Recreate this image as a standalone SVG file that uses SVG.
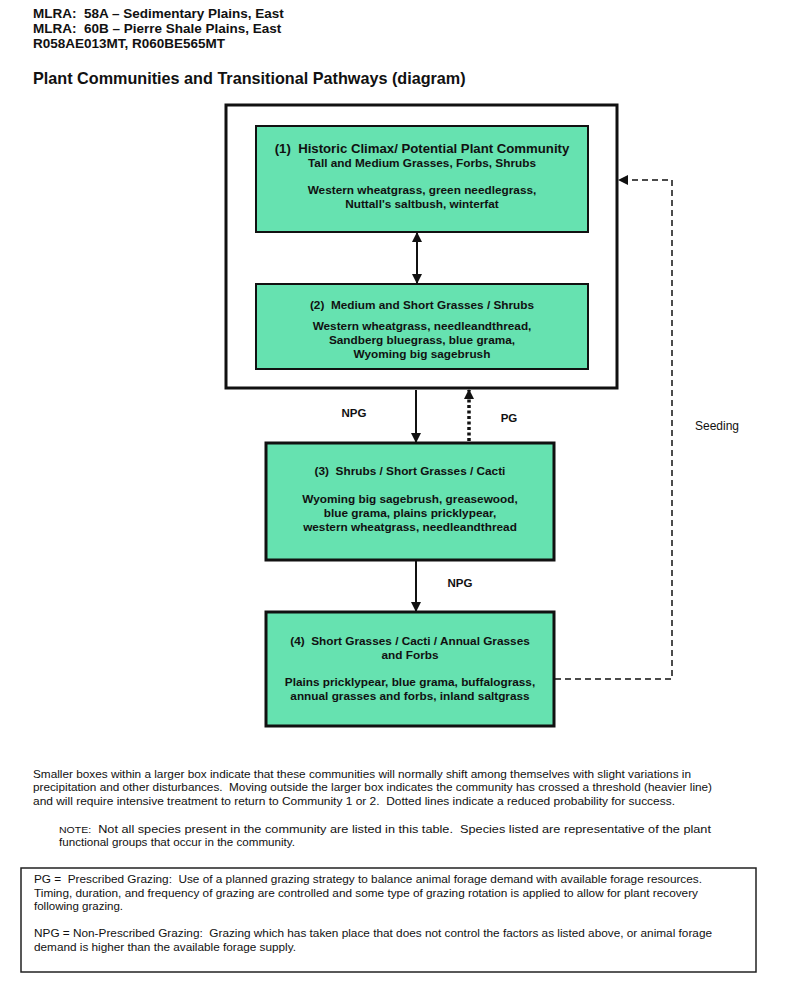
<svg xmlns="http://www.w3.org/2000/svg" width="800" height="1003" viewBox="0 0 800 1003" xml:space="preserve">
<defs>
<style>
text{font-family:"Liberation Sans",Arial,sans-serif;fill:#111;white-space:pre}
.hd{font-size:13.5px;font-weight:bold}
.ttl{font-size:16.2px;font-weight:bold}
.bt{font-size:11.8px;font-weight:bold;text-anchor:middle}
.bt1{font-size:13.2px;font-weight:bold;text-anchor:middle}
.lab{font-size:11.5px;font-weight:bold;text-anchor:middle}
.par{font-size:11.5px}
.node{fill:#66e2b0;stroke:#111}
.conn{stroke:#111;fill:none}
</style>
<marker id="ah2" viewBox="0 0 10 10" refX="9" refY="5" markerWidth="10" markerHeight="10" orient="auto-start-reverse" markerUnits="userSpaceOnUse"><path d="M0,0 L10,5 L0,10 z" fill="#111"/></marker>
</defs>
<rect width="800" height="1003" fill="#fff"/>
<g id="header">
<text class="hd" x="33" y="18">MLRA:  58A – Sedimentary Plains, East</text>
<text class="hd" x="33" y="33">MLRA:  60B – Pierre Shale Plains, East</text>
<text class="hd" x="33" y="48">R058AE013MT, R060BE565MT</text>
<text class="ttl" x="33" y="84">Plant Communities and Transitional Pathways (diagram)</text>
</g>
<g id="outer-box">
<rect x="226" y="105" width="391" height="283" fill="none" stroke="#111" stroke-width="3"/>
</g>
<g id="node1">
<rect class="node" x="256" y="126" width="332" height="106" stroke-width="2"/>
<text class="bt1" x="422" y="153">(1)  Historic Climax/ Potential Plant Community</text>
<text class="bt" x="422" y="167">Tall and Medium Grasses, Forbs, Shrubs</text>
<text class="bt" x="422" y="194">Western wheatgrass, green needlegrass,</text>
<text class="bt" x="422" y="208">Nuttall's saltbush, winterfat</text>
</g>
<g id="node2">
<rect class="node" x="256" y="284" width="332" height="85" stroke-width="2"/>
<text class="bt" x="422" y="309">(2)  Medium and Short Grasses / Shrubs</text>
<text class="bt" x="422" y="330">Western wheatgrass, needleandthread,</text>
<text class="bt" x="422" y="344">Sandberg bluegrass, blue grama,</text>
<text class="bt" x="422" y="358">Wyoming big sagebrush</text>
</g>
<g id="node3">
<rect class="node" x="266" y="443" width="288" height="117" stroke-width="3"/>
<text class="bt" x="410" y="475">(3)  Shrubs / Short Grasses / Cacti</text>
<text class="bt" x="410" y="503">Wyoming big sagebrush, greasewood,</text>
<text class="bt" x="410" y="517">blue grama, plains pricklypear,</text>
<text class="bt" x="410" y="531">western wheatgrass, needleandthread</text>
</g>
<g id="node4">
<rect class="node" x="266" y="612" width="288" height="114" stroke-width="3"/>
<text class="bt" x="410" y="645">(4)  Short Grasses / Cacti / Annual Grasses</text>
<text class="bt" x="410" y="659">and Forbs</text>
<text class="bt" x="410" y="686">Plains pricklypear, blue grama, buffalograss,</text>
<text class="bt" x="410" y="700">annual grasses and forbs, inland saltgrass</text>
</g>
<g id="connectors">
<line class="conn" x1="417" y1="233" x2="417" y2="283" stroke-width="2" marker-start="url(#ah2)" marker-end="url(#ah2)"/>
<line class="conn" x1="416" y1="390" x2="416" y2="442" stroke-width="2" marker-end="url(#ah2)"/>
<line class="conn" x1="469" y1="441" x2="469" y2="390" stroke-width="3.5" stroke-dasharray="3,2.5" marker-end="url(#ah2)"/>
<line class="conn" x1="416" y1="561" x2="416" y2="611" stroke-width="2" marker-end="url(#ah2)"/>
<polyline class="conn" points="555,679 672,679 672,180 619,180" stroke-width="1.5" stroke-dasharray="6,4" marker-end="url(#ah2)"/>
<text class="lab" x="354" y="417">NPG</text>
<text class="lab" x="509" y="422">PG</text>
<text class="lab" x="460" y="587">NPG</text>
<text x="717" y="430" style="font-size:12px;text-anchor:middle">Seeding</text>
</g>
<g id="notes">
<text class="par" x="33" y="778" textLength="658" lengthAdjust="spacingAndGlyphs">Smaller boxes within a larger box indicate that these communities will normally shift among themselves with slight variations in</text>
<text class="par" x="33" y="791" textLength="679" lengthAdjust="spacingAndGlyphs">precipitation and other disturbances.  Moving outside the larger box indicates the community has crossed a threshold (heavier line)</text>
<text class="par" x="33" y="805" textLength="642" lengthAdjust="spacingAndGlyphs">and will require intensive treatment to return to Community 1 or 2.  Dotted lines indicate a reduced probability for success.</text>
<text class="par" x="59" y="833" textLength="652" lengthAdjust="spacingAndGlyphs"><tspan style="font-size:9.5px">NOTE:</tspan>  Not all species present in the community are listed in this table.  Species listed are representative of the plant</text>
<text class="par" x="59" y="846" textLength="236" lengthAdjust="spacingAndGlyphs">functional groups that occur in the community.</text>
</g>
<g id="legend">
<rect x="21" y="868" width="735" height="104" fill="none" stroke="#222" stroke-width="1.5"/>
<text class="par" x="34" y="883" textLength="668" lengthAdjust="spacingAndGlyphs">PG =  Prescribed Grazing:  Use of a planned grazing strategy to balance animal forage demand with available forage resources.</text>
<text class="par" x="34" y="897" textLength="664" lengthAdjust="spacingAndGlyphs">Timing, duration, and frequency of grazing are controlled and some type of grazing rotation is applied to allow for plant recovery</text>
<text class="par" x="34" y="910" textLength="89" lengthAdjust="spacingAndGlyphs">following grazing.</text>
<text class="par" x="34" y="937" textLength="678" lengthAdjust="spacingAndGlyphs">NPG = Non-Prescribed Grazing:  Grazing which has taken place that does not control the factors as listed above, or animal forage</text>
<text class="par" x="34" y="951" textLength="262" lengthAdjust="spacingAndGlyphs">demand is higher than the available forage supply.</text>
</g>
</svg>
